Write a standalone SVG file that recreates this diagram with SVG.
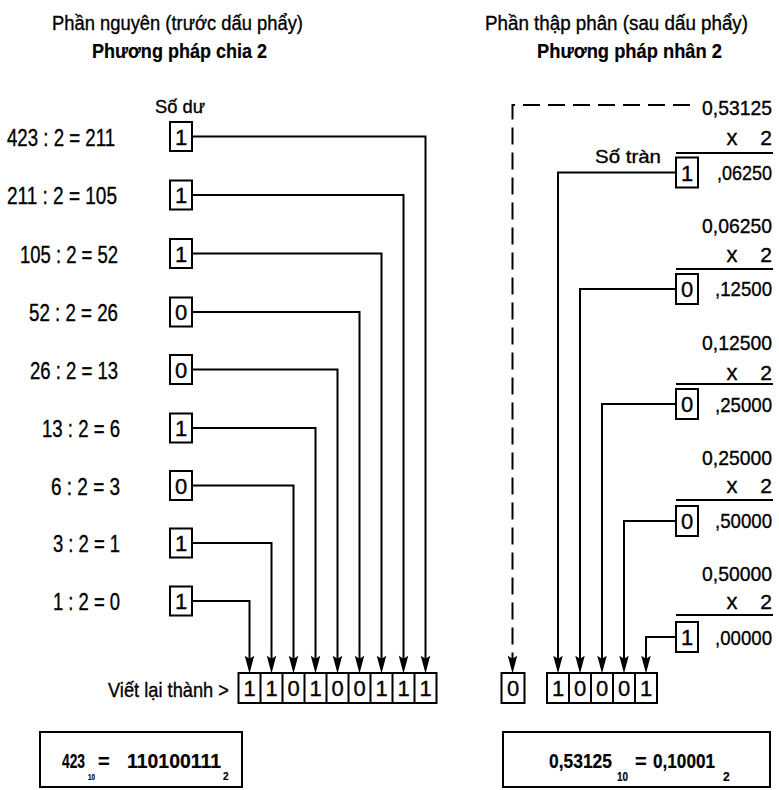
<svg xmlns="http://www.w3.org/2000/svg" width="779" height="790" viewBox="0 0 779 790">
<style>
.t{font-family:"Liberation Sans",Arial,sans-serif;fill:#000;stroke:#000;stroke-width:0.35}
.b{font-weight:bold;stroke-width:0.2}
.n{font-size:21px}
.d{font-size:22px;text-anchor:middle}
.r{text-anchor:end}
.ln{stroke:#000;stroke-width:2;fill:none}
.ds{stroke:#000;stroke-width:2;fill:none;stroke-dasharray:17 8}
.bx{fill:#fff;stroke:#000;stroke-width:2}
</style>
<defs>
<marker id="ah" markerUnits="userSpaceOnUse" markerWidth="20" markerHeight="12" viewBox="-8 -5 19 10" refX="0" refY="0" orient="auto">
<path d="M10,0 L-7,-4.5 L-4,0 L-7,4.5 z" fill="#000"/>
</marker>
</defs>
<rect width="779" height="790" fill="#fff"/>

<g id="titles">
<text class="t" x="52" y="29.5" font-size="20" textLength="251" lengthAdjust="spacingAndGlyphs">Phần nguyên (trước dấu phẩy)</text>
<text class="t b" x="92" y="58" font-size="21" textLength="175" lengthAdjust="spacingAndGlyphs">Phương pháp chia 2</text>
<text class="t" x="485" y="30" font-size="20" textLength="263" lengthAdjust="spacingAndGlyphs">Phần thập phân (sau dấu phẩy)</text>
<text class="t b" x="537" y="58" font-size="21" textLength="185" lengthAdjust="spacingAndGlyphs">Phương pháp nhân 2</text>
<text class="t" x="155" y="113" font-size="19" textLength="50" lengthAdjust="spacingAndGlyphs">Số dư</text>
<text class="t" x="595" y="163" font-size="19" textLength="66" lengthAdjust="spacingAndGlyphs">Số tràn</text>
</g>

<g id="connectors">
<path class="ln" d="M192,136.5 H425.5 V663" marker-end="url(#ah)"/>
<path class="ln" d="M192,195 H403.5 V663" marker-end="url(#ah)"/>
<path class="ln" d="M192,253.5 H381.5 V663" marker-end="url(#ah)"/>
<path class="ln" d="M192,312 H359.5 V663" marker-end="url(#ah)"/>
<path class="ln" d="M192,369.5 H337.5 V663" marker-end="url(#ah)"/>
<path class="ln" d="M192,428 H315.5 V663" marker-end="url(#ah)"/>
<path class="ln" d="M192,485.5 H293.5 V663" marker-end="url(#ah)"/>
<path class="ln" d="M192,543 H271.5 V663" marker-end="url(#ah)"/>
<path class="ln" d="M192,601 H249.5 V663" marker-end="url(#ah)"/>
<path class="ds" d="M690,105 H512.5 V663" marker-end="url(#ah)"/>
<path class="ln" d="M676,172.5 H558 V663" marker-end="url(#ah)"/>
<path class="ln" d="M676,289 H580 V663" marker-end="url(#ah)"/>
<path class="ln" d="M676,404 H602 V663" marker-end="url(#ah)"/>
<path class="ln" d="M676,521 H624 V663" marker-end="url(#ah)"/>
<path class="ln" d="M676,637 H646 V663" marker-end="url(#ah)"/>
</g>

<g id="divisions">
<text class="t" x="7" y="145.5" font-size="23" textLength="108" lengthAdjust="spacingAndGlyphs">423 : 2 = 211</text>
<text class="t" x="7" y="204" font-size="23" textLength="110" lengthAdjust="spacingAndGlyphs">211 : 2 = 105</text>
<text class="t" x="20" y="262.5" font-size="23" textLength="98" lengthAdjust="spacingAndGlyphs">105 : 2 = 52</text>
<text class="t" x="29" y="321" font-size="23" textLength="89" lengthAdjust="spacingAndGlyphs">52 : 2 = 26</text>
<text class="t" x="30" y="378.5" font-size="23" textLength="88" lengthAdjust="spacingAndGlyphs">26 : 2 = 13</text>
<text class="t" x="42" y="437" font-size="23" textLength="78" lengthAdjust="spacingAndGlyphs">13 : 2 = 6</text>
<text class="t" x="51" y="494.5" font-size="23" textLength="69" lengthAdjust="spacingAndGlyphs">6 : 2 = 3</text>
<text class="t" x="53" y="552" font-size="23" textLength="67" lengthAdjust="spacingAndGlyphs">3 : 2 = 1</text>
<text class="t" x="53" y="610" font-size="23" textLength="67" lengthAdjust="spacingAndGlyphs">1 : 2 = 0</text>
</g>

<g id="remainders">
<rect class="bx" x="170" y="122" width="22" height="29"/><text class="t d" x="181" y="144.5">1</text>
<rect class="bx" x="170" y="180.5" width="22" height="29"/><text class="t d" x="181" y="203">1</text>
<rect class="bx" x="170" y="239" width="22" height="29"/><text class="t d" x="181" y="261.5">1</text>
<rect class="bx" x="170" y="297.5" width="22" height="29"/><text class="t d" x="181" y="320">0</text>
<rect class="bx" x="170" y="355" width="22" height="29"/><text class="t d" x="181" y="377.5">0</text>
<rect class="bx" x="170" y="413.5" width="22" height="29"/><text class="t d" x="181" y="436">1</text>
<rect class="bx" x="170" y="471" width="22" height="29"/><text class="t d" x="181" y="493.5">0</text>
<rect class="bx" x="170" y="528.5" width="22" height="29"/><text class="t d" x="181" y="551">1</text>
<rect class="bx" x="170" y="586.5" width="22" height="29"/><text class="t d" x="181" y="609">1</text>
</g>

<g id="int-result-row">
<text class="t" x="108" y="697" font-size="21" textLength="121" lengthAdjust="spacingAndGlyphs">Viết lại thành &gt;</text>
<rect class="bx" x="238.5" y="673" width="198" height="30"/>
<path class="ln" d="M260.5,673V703M282.5,673V703M304.5,673V703M326.5,673V703M348.5,673V703M370.5,673V703M392.5,673V703M414.5,673V703"/>
<text class="t d" x="249.5" y="696">1</text>
<text class="t d" x="271.5" y="696">1</text>
<text class="t d" x="293.5" y="696">0</text>
<text class="t d" x="315.5" y="696">1</text>
<text class="t d" x="337.5" y="696">0</text>
<text class="t d" x="359.5" y="696">0</text>
<text class="t d" x="381.5" y="696">1</text>
<text class="t d" x="403.5" y="696">1</text>
<text class="t d" x="425.5" y="696">1</text>
</g>

<g id="multiplications">
<text class="t n r" x="772" y="115" textLength="70" lengthAdjust="spacingAndGlyphs">0,53125</text>
<text class="t d" x="732" y="145">x</text><text class="t n r" x="772" y="145">2</text>
<path class="ln" d="M676,153 H773"/>
<text class="t n r" x="772" y="180" textLength="55" lengthAdjust="spacingAndGlyphs">,06250</text>

<text class="t n r" x="772" y="233" textLength="70" lengthAdjust="spacingAndGlyphs">0,06250</text>
<text class="t d" x="732" y="262">x</text><text class="t n r" x="772" y="262">2</text>
<path class="ln" d="M676,269 H773"/>
<text class="t n r" x="772" y="296" textLength="57" lengthAdjust="spacingAndGlyphs">,12500</text>

<text class="t n r" x="772" y="350" textLength="70" lengthAdjust="spacingAndGlyphs">0,12500</text>
<text class="t d" x="732" y="380">x</text><text class="t n r" x="772" y="380">2</text>
<path class="ln" d="M676,384 H773"/>
<text class="t n r" x="772" y="412" textLength="57" lengthAdjust="spacingAndGlyphs">,25000</text>

<text class="t n r" x="772" y="465" textLength="70" lengthAdjust="spacingAndGlyphs">0,25000</text>
<text class="t d" x="732" y="493">x</text><text class="t n r" x="772" y="493">2</text>
<path class="ln" d="M676,500 H773"/>
<text class="t n r" x="772" y="528" textLength="57" lengthAdjust="spacingAndGlyphs">,50000</text>

<text class="t n r" x="772" y="581" textLength="70" lengthAdjust="spacingAndGlyphs">0,50000</text>
<text class="t d" x="732" y="609">x</text><text class="t n r" x="772" y="609">2</text>
<path class="ln" d="M676,615 H773"/>
<text class="t n r" x="772" y="645" textLength="57" lengthAdjust="spacingAndGlyphs">,00000</text>
</g>

<g id="overflows">
<rect class="bx" x="676" y="157.5" width="22" height="30"/><text class="t d" x="687" y="180.5">1</text>
<rect class="bx" x="676" y="274" width="22" height="30"/><text class="t d" x="687" y="297">0</text>
<rect class="bx" x="676" y="389" width="22" height="30"/><text class="t d" x="687" y="412">0</text>
<rect class="bx" x="676" y="506" width="22" height="30"/><text class="t d" x="687" y="529">0</text>
<rect class="bx" x="676" y="622" width="22" height="30"/><text class="t d" x="687" y="645">1</text>
</g>

<g id="frac-result-row">
<rect class="bx" x="501.5" y="673" width="23" height="30"/>
<text class="t d" x="513" y="696">0</text>
<rect class="bx" x="547" y="673" width="110" height="30"/>
<path class="ln" d="M569,673V703M591,673V703M613,673V703M635,673V703"/>
<text class="t d" x="558" y="696">1</text>
<text class="t d" x="580" y="696">0</text>
<text class="t d" x="602" y="696">0</text>
<text class="t d" x="624" y="696">0</text>
<text class="t d" x="646" y="696">1</text>
</g>

<g id="int-answer">
<rect class="bx" x="40" y="732" width="202" height="55"/>
<text class="t b" x="62" y="768" font-size="20" textLength="23" lengthAdjust="spacingAndGlyphs">423</text>
<text class="t b" x="88" y="780" font-size="9" textLength="7" lengthAdjust="spacingAndGlyphs">10</text>
<text class="t b" x="98" y="768" font-size="20">=</text>
<text class="t b" x="127" y="768" font-size="20" textLength="94" lengthAdjust="spacingAndGlyphs">110100111</text>
<text class="t b" x="223" y="780" font-size="10">2</text>
</g>

<g id="frac-answer">
<rect class="bx" x="503" y="732" width="267" height="55"/>
<text class="t b" x="549" y="768" font-size="20" textLength="63" lengthAdjust="spacingAndGlyphs">0,53125</text>
<text class="t b" x="617" y="781" font-size="12" textLength="11" lengthAdjust="spacingAndGlyphs">10</text>
<text class="t b" x="635" y="768" font-size="20">=</text>
<text class="t b" x="653" y="768" font-size="20" textLength="62" lengthAdjust="spacingAndGlyphs">0,10001</text>
<text class="t b" x="723" y="781" font-size="12">2</text>
</g>
</svg>
